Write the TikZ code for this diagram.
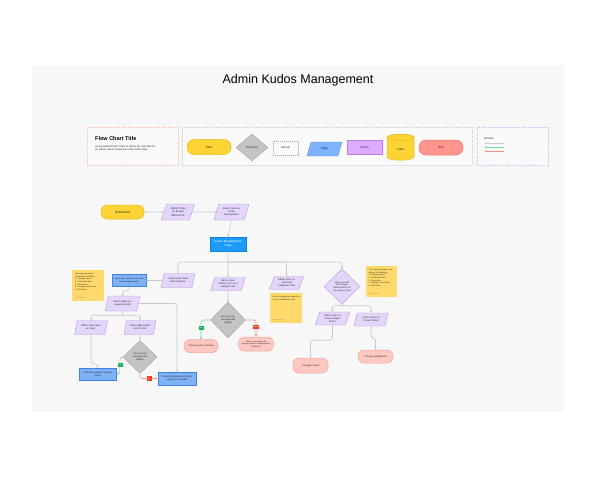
\documentclass[tikz,border=0pt]{standalone}
\usepackage{fontspec}
\setmainfont{Liberation Sans}
\usetikzlibrary{shapes.geometric,arrows.meta,calc}
\definecolor{panel}{HTML}{F7F7F7}
\definecolor{boxbg}{HTML}{FAFAFA}
\definecolor{txtc}{HTML}{2B2B2B}
\definecolor{yel}{HTML}{FDD335}
\definecolor{yelb}{HTML}{E9BC1C}
\definecolor{gry}{HTML}{C4C4C4}
\definecolor{gryb}{HTML}{A6A6A6}
\definecolor{lblue}{HTML}{7DB3FF}
\definecolor{lblueb}{HTML}{5A97EA}
\definecolor{nblue}{HTML}{7FB1F6}
\definecolor{nblueb}{HTML}{3D84E6}
\definecolor{kblue}{HTML}{1C9BFA}
\definecolor{kblueb}{HTML}{0C84E4}
\definecolor{apur}{HTML}{DDABFF}
\definecolor{apurb}{HTML}{B47FE6}
\definecolor{lpur}{HTML}{E4D5FA}
\definecolor{lpurb}{HTML}{B69BE4}
\definecolor{ered}{HTML}{FF958C}
\definecolor{eredb}{HTML}{E97A72}
\definecolor{epink}{HTML}{FFC8C1}
\definecolor{epinkb}{HTML}{EFA39A}
\definecolor{sticky}{HTML}{FFDA6B}
\definecolor{connc}{HTML}{C9C9C9}
\definecolor{gline}{HTML}{7FD3A2}
\definecolor{rline}{HTML}{F4968E}
\definecolor{gtag}{HTML}{1DB05A}
\definecolor{rtag}{HTML}{EF3E22}
\definecolor{peach}{HTML}{F7C6AE}
\definecolor{dgray}{HTML}{D3D3D3}
\definecolor{lilac}{HTML}{DDBDF5}
\begin{document}
\begin{tikzpicture}[x=1pt,y=-1pt,
  tx/.style={font=\fontsize{2.4}{2.9}\selectfont, text=txtc, align=center, inner sep=0pt},
  lg/.style={font=\fontsize{3}{3.6}\selectfont, text=txtc, align=center, inner sep=0pt},
  startn/.style={draw=yelb, fill=yel, line width=0.5pt, rounded corners=5.5pt},
  decn/.style={diamond, draw=gryb, fill=gry, line width=0.4pt, aspect=1},
  pagen/.style={trapezium, trapezium left angle=68, trapezium right angle=112, trapezium stretches=true, draw=lpurb, fill=lpur, line width=0.4pt},
  bluen/.style={rectangle, draw=nblueb, fill=nblue, line width=0.5pt},
  endn/.style={draw=epinkb, fill=epink, line width=0.5pt, rounded corners=6pt},
  stickyn/.style={rectangle, fill=sticky, inner sep=0pt},
  sz/.style n args={2}{minimum width=#1pt, minimum height=#2pt},
  conn/.style={draw=connc, line width=0.6pt, rounded corners=2.5pt, -{Stealth[length=2.2pt,width=2.2pt]}},
  gconn/.style={conn, draw=gline},
  rconn/.style={conn, draw=rline},
  tagn/.style={font=\fontsize{1.6}{1.8}\selectfont\bfseries, text=white, inner sep=0.5pt, minimum width=5pt, minimum height=4.5pt},
  stt/.style={anchor=north west, align=left, inner sep=0pt, text=txtc, font=\fontsize{2}{2.6}\selectfont},
  sig/.style={anchor=south west, inner sep=0pt, text=gray, font=\fontsize{1.5}{1.8}\selectfont},
  lgbox/.style={fill=boxbg, line width=0.5pt, dash pattern=on 1.5pt off 1pt, inner sep=0pt},
]
\useasboundingbox (0,0) rectangle (596,479);
\fill[white] (0,0) rectangle (596,479);
\fill[panel] (32,65) rectangle (564,412);
\node[font=\fontsize{12.5}{14}\selectfont, text=black] (title) at (298,80) {Admin Kudos Management};

% legend
\node[lgbox, draw=peach, sz={91}{38}] (lgA) at (132.5,146) {};
\node[anchor=west, font=\fontsize{5.5}{6}\selectfont\bfseries, inner sep=0pt] (fct) at (95,138.5) {Flow Chart Title};
\node[anchor=north west, font=\fontsize{2.6}{3.9}\selectfont, align=left, inner sep=0pt, text=txtc] (fcd) at (95,145) {As an [Admin/PEX] I'd like to define the user flow for\\an admin add an employee to the Kudos App};
\node[lgbox, draw=dgray, sz={290}{38}] (lgB) at (327,146) {};
\node[lgbox, draw=lilac, sz={71}{38}] (lgC) at (512.5,146) {};
\node[startn, lg, sz={44}{15}, rounded corners=7pt] (lstart) at (209,147) {Start};
\node[decn, lg, sz={32}{27}, inner sep=0pt] (ldec) at (252,147.5) {Decision};
\node[lg, draw=gryb, dash pattern=on 1.2pt off 0.8pt, line width=0.4pt, fill=boxbg, sz={25}{14}] (lgroup) at (285.5,148) {Group};
\node[pagen, lg, draw=lblueb, fill=lblue, sz={35}{14}] (lpage) at (324.5,149) {Page};
\node[lg, draw=apurb, fill=apur, sz={35}{14}, line width=0.5pt] (laction) at (364.5,147) {Action};
\path[fill=yel, draw=yelb, line width=0.5pt] (387,137.5) -- (387,157) arc[start angle=180, end angle=0, x radius=13.5, y radius=3.2] -- (414,137.5) arc[start angle=0, end angle=-180, x radius=13.5, y radius=3.2] -- cycle;
\draw[yelb, line width=0.5pt] (400.5,137.5) ellipse [x radius=13.5, y radius=3.2];
\node[lg] (ldata) at (400.5,149) {Data};
\node[endn, lg, draw=eredb, fill=ered, sz={44}{15}, rounded corners=7pt] (lend) at (441,147.5) {End};
\node[anchor=west, lg] (arr) at (484,138) {Arrows};
\coordinate (la1) at (504,143); \coordinate (lb1) at (484.5,143);
\coordinate (la2) at (504,147); \coordinate (lb2) at (484.5,147);
\coordinate (la3) at (504,151); \coordinate (lb3) at (484.5,151);
\draw[conn] (la1) -- (lb1);
\draw[gconn] (la2) -- (lb2);
\draw[rconn] (la3) -- (lb3);

% top flow
\node[startn, lg, sz={43}{14}] (dash) at (122.5,212) {Dashboard};
\node[pagen, tx, font=\fontsize{2.7}{3.2}\selectfont, sz={33}{16}] (p1) at (178,212) {Admin clicks\\on Burger\\Menu/Icon};
\node[pagen, tx, sz={35}{16}] (p2) at (231.5,212) {Admin Clicks on\\Kudos\\Management};
\node[rectangle, draw=kblueb, fill=kblue, sz={36}{14}, lg, text=white, line width=0.5pt] (kmp) at (228,244) {Kudos Management\\Page};

% branches
\node[pagen, tx, sz={34}{14}] (b1) at (178,280.5) {Admin clicks 'Add\\New Category'};
\node[pagen, tx, sz={35}{13}] (b2) at (228,284) {Admin clicks\\'Archive' icon on a\\category card};
\node[pagen, tx, sz={34}{13}] (b3) at (286.5,283) {Admin clicks on\\'Archived\\Categories' Tab};
\node[decn, draw=lpurb, fill=lpur, tx, font=\fontsize{2.2}{2.7}\selectfont, sz={36}{35}, inner sep=0pt] (b4) at (342,286.5) {Admin can edit\\the category\\details directly on\\the category card};

% sticky notes
\node[stickyn, sz={32}{31}] (s1) at (88,285.5) {};
\node[stt] (s1t) at (75,273) {New category details\\needed are as follows:\\1. Category Name\\2. Points allocation\\3. Description\\4. Category Icon/Colour\\5. Start Date};
\node[sig] (s1s) at (75,299) {Name Surname};
\node[stickyn, sz={32}{30}] (s2) at (286,308) {};
\node[stt] (s2t) at (272.5,296) {Archived categories appear as\\a list in alphabetical order};
\node[sig] (s2s) at (272.5,321) {Name Surname};
\node[stickyn, sz={31}{31}] (s3) at (381.5,281.5) {};
\node[stt] (s3t) at (368.5,269) {The details that admin can\\edit are the following:\\1. Category Name\\2. Points allocation\\3. Description\\4. Category Icon/Colour\\5. Start Date};
\node[sig] (s3s) at (368.5,295) {Name Surname};

% left section
\node[bluen, tx, font=\fontsize{2.1}{2.7}\selectfont, sz={34}{12}] (blue1) at (129,280.5) {Admin gets directed to the add\\new category modal};
\node[pagen, tx, sz={35}{15}] (padd) at (122.5,303.5) {Admin adds new\\category details};
\node[pagen, tx, sz={33}{14}] (psave) at (91,327.5) {Admin clicks Save\\as 'Save'};
\node[pagen, tx, sz={32}{14}] (pcan) at (140,327.5) {Admin adds details\\and 'Cancel'};
\node[decn, tx, sz={34}{33}, inner sep=0pt] (d1) at (140,357) {Are you sure\\message will\\display};
\node[bluen, tx, sz={37}{12}] (blL) at (97.5,374) {Add new category/ system\\closes};
\node[bluen, tx, sz={38}{13}] (blR) at (177,378.5) {Close/changes are lost and\\category not added};

% middle section
\node[decn, tx, sz={35}{36}, inner sep=0pt] (d2) at (228,320) {Are you sure\\message will\\display};
\node[endn, tx, sz={34}{13}] (eA) at (201,346) {Category gets archived};
\node[endn, tx, font=\fontsize{2}{2.6}\selectfont, sz={35}{14}] (eB) at (256,344) {Action is cancelled and\\category stays on 'Management'\\dashboard};

% right section
\node[pagen, tx, sz={35}{13}] (pL) at (332.5,318.5) {Admin clicks on\\'Save changes'\\button};
\node[pagen, tx, sz={34}{13}] (pR) at (371,319.5) {Admin clicks on\\'Cancel' button};
\node[endn, tx, sz={35}{15}] (eC) at (310.5,365.5) {Changes saved};
\node[endn, tx, sz={35}{13}] (eD) at (375.5,356.5) {Changes abandoned};

% connectors
\draw[conn] (dash) -- (p1);
\draw[conn] (p1) -- (p2);
\draw[conn] (p2.south) -- (kmp.north);
\coordinate (br) at (228,262);
\draw[conn] (kmp.south) -- (b2.north);
\draw[conn] (br) -| (b1.north);
\draw[conn] (br) -| (b3.north);
\draw[conn] (br) -| (b4.north);

\draw[conn] (b1) -- (blue1);
\draw[conn] (blue1.south) -- ++(0,4) -| (padd.north);
\draw[conn] (padd.east) -| (blR.north);
\draw[conn, -] (padd.south) -- ++(0,4) coordinate (sp1);
\draw[conn] (sp1) -| (psave.north);
\draw[conn] (sp1) -| (pcan.north);
\draw[conn] (psave.south) -- ++(0,29) -| (blL.north);
\draw[conn] (pcan.south) -- (d1.north);
\draw[gconn] (d1.west) -- ++(-3,0) |- (blL.east);
\draw[rconn] (d1.south) |- (blR.west);
\node[tagn, fill=gtag] (y1) at (120,365) {Yes};
\node[tagn, fill=rtag] (n1) at (149,378.5) {No};

\draw[conn] (b2.south) -- (d2.north);
\draw[gconn] (d2.west) -| (eA.north);
\draw[rconn] (d2.east) -| (eB.north);
\node[tagn, fill=gtag] (y2) at (201,328) {Yes};
\node[tagn, fill=rtag] (n2) at (256,327) {Cancel};

\draw[conn, -] (b4.south) -- ++(0,1.5) coordinate (sp2);
\draw[conn] (sp2) -| (pL.north);
\draw[conn] (sp2) -| (pR.north);
\draw[conn] (pL.south) -- ++(0,15) -| (eC.north);
\draw[conn] (pR.south) -- ++(0,12) -| (eD.north);
\end{tikzpicture}
\end{document}
